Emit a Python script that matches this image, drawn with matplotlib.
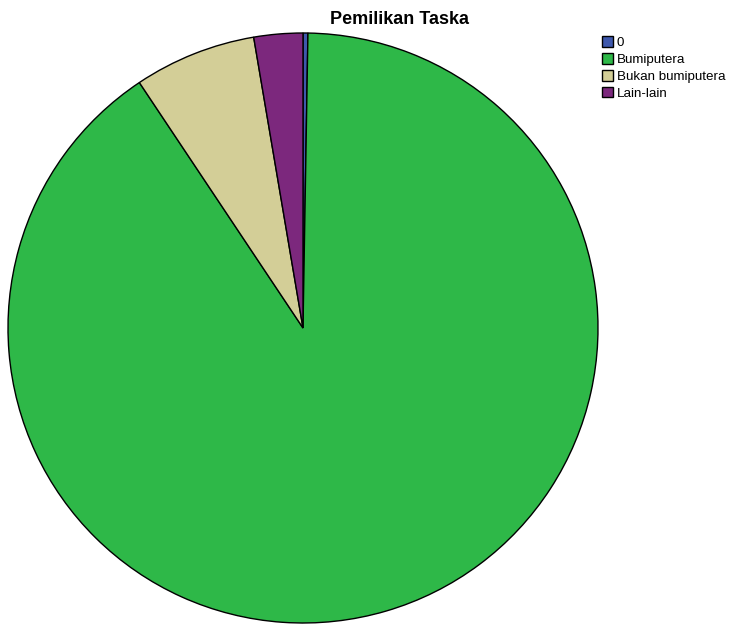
import matplotlib.pyplot as plt

labels = ["0", "Bumiputera", "Bukan bumiputera", "Lain-lain"]
counts = [1, 338, 25, 10]
colors = ["#3E58AC", "#2EB848", "#D3CE97", "#7C287D"]

plt.rcParams["font.family"] = ["Liberation Sans", "DejaVu Sans"]

fig = plt.figure(figsize=(7.5, 6.26), dpi=100)
# pie centre about (303, 328) px, radius about 295 px
ax = fig.add_axes([8 / 750, 3 / 626, 590 / 750, 590 / 626])
wedges, _ = ax.pie(counts, colors=colors, startangle=90, counterclock=False,
                   wedgeprops=dict(edgecolor="black", linewidth=1))
ax.set_xlim(-1, 1)
ax.set_ylim(-1, 1)
ax.set_aspect("equal")
ax.axis("off")

fig.text(400 / 750, 1 - 19 / 626, "Pemilikan Taska", ha="center", va="center",
         fontsize=13, fontweight="bold")

fig.legend(wedges, labels, loc="upper left", bbox_to_anchor=(602 / 750, 1 - 36 / 626),
           frameon=False, fontsize=9.6, handlelength=0.85, handleheight=0.85,
           handletextpad=0.25, labelspacing=0.3, borderpad=0, borderaxespad=0)

fig.savefig("out.png", dpi=100)
